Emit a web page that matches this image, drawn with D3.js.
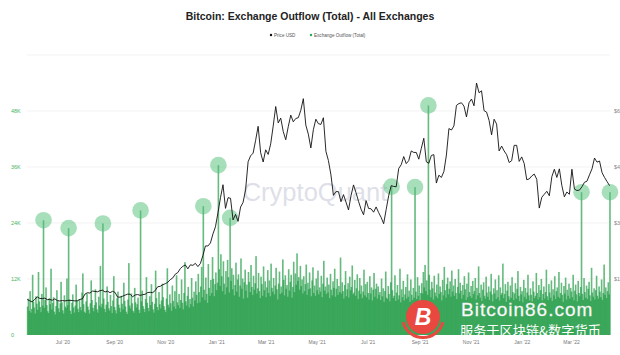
<!DOCTYPE html>
<html><head><meta charset="utf-8">
<script src="https://cdn.jsdelivr.net/npm/d3@7"></script>
<style>body{margin:0;background:#fff}svg{display:block;font-family:"Liberation Sans",Arial,sans-serif}</style>
</head><body><svg id="c" width="620" height="355"></svg>
<script>
// ---- data ----
const startDate = "2020-05-20";
const priceStepDays = 3;
// BTC price (USD), one value every 3 days from startDate
const priceUSD = [9500,9180,8850,9570,10200,9800,9750,9880,9470,9520,
9300,9680,9250,9110,9230,9130,9250,9280,9240,9130,
9170,9530,9700,10950,11330,11230,11760,11680,11570,11870,
12000,11520,11750,11330,11710,11400,10170,10130,10390,10680,
10940,10920,10250,10720,10840,10620,10790,10920,11380,11430,
11360,11920,12930,13040,13460,13740,14130,14820,15300,16300,
16720,17800,18400,18760,17730,18800,18650,19190,18320,19150,
21310,23860,23840,24660,27080,28990,32780,36770,40250,33920,
36770,36630,30830,32290,30430,34270,35510,38900,46400,48000,
48720,52150,55900,48820,46340,49600,48370,51200,55960,61200,
56800,58100,54500,52300,55800,58900,57100,58000,58200,60200,
63300,56200,53800,50100,55000,57800,56600,56400,58200,49200,
46700,42900,37400,38400,38400,35700,37600,35600,33500,37300,
40200,38100,35800,33700,32200,36000,33900,33800,32900,34300,
32800,31500,29800,33600,37300,40000,39800,39700,44600,45600,
47800,45900,46700,49300,48900,48900,47100,50000,52700,46400,
46000,48100,48300,40700,42800,42200,43800,48200,55300,54900,
56000,61500,62000,62200,61300,58400,62200,63200,61400,67500,
64900,65400,60100,59700,57500,53600,57800,56500,49300,50600,
49300,48300,46200,46700,50800,50800,46500,47700,45900,41600,
41800,42600,43100,41700,34000,36900,37700,38500,37300,42400,
44400,42200,44500,40000,37000,38300,37700,44400,39100,38700,
38800,39700,40900,41200,42900,44500,47400,46300,46600,43500,
42200,41100,40000];
// Exchange outflow (thousands), one value per day from startDate
const outflowK = [
6.1,7.8,5.2,9.4,4.8,5.6,12.9,7.1,5.9,4.6,
8.3,6.7,5.4,13.5,7.2,6.0,4.9,8.8,6.3,24.6,
5.8,7.5,10.2,6.4,5.1,4.7,7.9,6.6,14.2,5.5,
6.9,8.1,5.0,4.4,6.2,9.6,7.3,5.7,4.9,6.8,
11.4,7.0,5.3,4.6,8.5,6.1,5.8,12.1,6.4,22.9,
7.6,5.2,4.5,6.9,8.7,5.9,4.8,6.3,10.8,7.4,
5.6,4.9,7.7,6.0,5.3,9.1,13.2,6.6,5.0,4.7,
7.2,8.9,6.1,5.4,4.6,6.8,11.7,7.5,5.8,5.1,
6.4,9.8,7.0,5.5,4.8,8.2,6.3,14.8,5.9,6.7,
23.9,7.8,5.6,4.9,6.5,10.4,7.1,5.7,5.2,8.6,
6.2,4.7,7.4,12.6,6.0,5.3,4.6,7.9,9.3,6.5,
5.8,4.9,8.4,6.7,5.5,11.2,7.3,6.1,5.0,4.5,
7.6,15.4,6.3,5.7,8.9,6.8,5.2,4.8,10.1,7.0,
5.9,6.6,8.0,5.4,4.7,26.7,7.2,9.5,6.2,5.6,
4.9,7.7,12.4,6.9,5.8,5.1,8.3,6.4,10.9,7.1,
5.5,4.8,6.7,13.8,7.9,6.0,5.3,9.2,6.6,5.7,
7.4,11.0,8.1,6.2,5.4,4.9,7.8,14.3,6.5,5.9,
8.7,6.8,5.2,10.6,7.3,6.1,9.4,5.6,12.8,7.0,
6.4,8.8,5.8,7.5,11.9,6.9,5.5,9.0,15.6,7.2,
6.3,8.4,10.3,5.9,7.7,6.6,12.2,8.0,6.1,9.3,
7.4,11.5,8.6,6.8,13.1,9.2,7.0,10.4,14.6,8.1,
27.6,9.7,7.5,12.3,8.8,6.9,15.2,10.1,8.4,11.8,
9.0,16.7,12.0,8.3,10.9,13.4,9.6,11.2,36.4,14.1,
10.5,17.3,12.6,9.4,15.8,11.0,8.7,13.7,10.2,16.1,
12.4,9.1,25.1,11.6,14.3,9.8,12.9,8.5,10.7,15.5,
9.3,11.9,13.0,8.2,10.6,16.4,9.9,12.1,7.8,11.3,
14.0,9.5,10.8,8.0,13.5,11.4,9.2,15.0,10.3,8.6,
12.7,9.7,11.1,16.9,8.9,10.0,13.3,9.4,7.9,12.5,
10.9,8.4,14.7,9.6,11.5,8.1,10.2,13.9,9.0,11.7,
8.3,15.3,10.1,9.3,12.2,8.7,10.6,14.4,9.8,7.6,
11.0,13.6,8.8,10.4,9.1,16.2,11.8,8.5,12.8,9.9,
10.7,8.2,14.1,9.5,11.4,12.9,8.0,10.3,15.7,9.2,
13.2,10.8,17.5,11.6,12.4,9.7,14.8,10.5,11.9,8.9,
12.6,9.4,10.9,15.1,8.6,11.2,9.8,13.4,10.0,8.3,
11.7,14.5,9.0,10.6,8.4,12.1,9.6,13.8,8.7,10.2,
9.3,12.7,8.1,11.0,15.9,9.5,10.4,8.8,12.3,9.1,
10.8,7.9,13.1,9.7,8.5,11.5,10.1,14.2,8.2,9.9,
12.0,8.6,10.5,9.2,16.6,8.9,11.3,9.4,7.8,10.7,
13.7,8.3,9.8,11.1,8.0,12.5,9.6,10.3,14.9,8.7,
9.1,11.8,8.4,10.0,13.0,7.7,9.5,12.2,8.8,10.6,
7.9,9.3,14.0,8.5,10.9,8.1,11.4,9.0,7.6,12.6,
8.9,10.2,7.4,9.7,13.3,8.2,9.9,11.0,7.8,10.4,
8.6,
9.2,7.5,12.1,8.3,10.0,7.1,9.4,13.6,8.0,7.7,
10.5,8.8,7.2,11.3,31.8,9.6,7.9,8.4,12.8,7.3,
9.1,10.7,7.6,8.5,14.2,7.0,9.8,8.1,11.6,7.4,
8.7,10.3,7.8,13.0,8.2,9.5,7.1,11.9,8.6,7.5,
10.1,8.0,31.7,9.3,7.7,12.4,8.4,10.6,7.2,9.0,
11.1,8.9,13.5,10.2,15.0,9.4,11.7,8.6,49.2,12.9,
9.7,8.1,11.4,10.0,7.6,12.7,9.1,8.3,10.8,7.9,
13.2,8.8,10.4,9.2,7.4,11.8,8.5,14.6,9.6,8.0,
10.9,12.3,8.7,9.9,11.5,8.2,13.8,9.3,10.6,8.4,
12.0,9.0,7.7,10.3,14.1,8.9,11.2,9.5,7.8,10.7,
8.6,12.6,9.8,7.5,11.0,8.1,13.4,9.2,8.3,10.5,
7.9,11.6,8.8,9.4,12.2,7.6,10.1,8.5,14.7,9.0,
8.0,10.8,7.3,9.7,11.3,8.4,7.8,12.5,9.1,8.2,
10.4,7.5,9.3,13.1,8.7,7.2,10.0,8.9,11.9,7.7,
9.6,8.1,12.8,7.4,10.2,8.6,9.0,15.3,7.9,8.8,
10.9,7.1,9.5,11.4,8.3,7.6,10.6,8.0,12.4,9.2,
7.5,8.9,11.1,7.8,9.9,13.7,8.4,7.3,10.3,8.7,
9.4,7.0,11.8,8.2,10.1,7.7,9.1,12.9,8.5,7.4,
10.0,8.6,7.2,11.5,9.3,7.9,8.4,13.3,9.0,7.6,
10.7,8.1,9.6,12.0,7.4,8.8,10.4,7.8,9.2,14.0,
8.3,7.5,10.9,9.1,8.0,11.7,7.3,9.8,8.5,12.6,
7.7,9.4,10.2,8.2,13.5,7.9,9.0,11.2,8.6,7.1,
10.5,8.9,12.3,7.6,9.7,8.4,11.0,7.8,10.1,9.3,
8.1,12.9,7.4,9.5,10.8,8.7,7.2,11.6,9.0,8.3,
10.3,30.6,8.8,7.5,12.2,9.2,8.0,10.6,7.7,9.9,
11.4,8.5,7.3,14.4,9.1,8.2,10.0,7.6,9.6,12.7,
8.4,7.8,10.4,9.3,8.1,11.9,7.5,9.0,15.1,8.6,
10.2,7.9,9.4,11.3,8.7,30.6];
const outlierThresholdK = 20;
const leftTicks = [0,12,24,36,48];
const leftTickLabels = ["0","12K","24K","36K","48K"];
const gridTicks = [12,24,36,48,60];
const rightTicks = [15000,30000,45000,60000];
const rightTickLabels = ["$15K","$30K","$45K","$60K"];
const xTickDates = ["2020-07-01","2020-09-01","2020-11-01","2021-01-01","2021-03-01","2021-05-01","2021-07-01","2021-09-01","2021-11-01","2022-01-01","2022-03-01"];
const xTickLabels = ["Jul '20","Sep '20","Nov '20","Jan '21","Mar '21","May '21","Jul '21","Sep '21","Nov '21","Jan '22","Mar '22"];
const legendItems = ["Price USD","Exchange Outflow (Total)"];

// ---- chart ----
const svg = d3.select("#c");
const parse = d3.utcParse("%Y-%m-%d");
const t0 = parse(startDate);
const dayDate = i => d3.utcDay.offset(t0, i);
const x = d3.scaleUtc().domain([t0, dayDate(outflowK.length)]).range([27.2, 610.4]);
const yL = d3.scaleLinear().domain([0, 60]).range([335, 55]);
const yR = d3.scaleLinear().domain([0, 75000]).range([335, 55]);
const dayW = x(dayDate(1)) - x(t0);

// gridlines
svg.append("g").selectAll("line").data(gridTicks).join("line")
  .attr("x1", 27).attr("x2", 610).attr("y1", d => yL(d)).attr("y2", d => yL(d))
  .attr("stroke", "#ececec").attr("stroke-width", 0.7);

// watermark
svg.append("text").attr("x", 315).attr("y", 201).attr("text-anchor", "middle")
  .attr("font-size", 25.5).attr("fill", "#dedfe8").text("CryptoQuant");

// bars
svg.append("g").selectAll("rect").data(outflowK).join("rect")
  .attr("x", (d, i) => x(dayDate(i)) + dayW / 2 - 0.8)
  .attr("width", 1.6)
  .attr("y", d => yL(d))
  .attr("height", d => yL(0) - yL(d))
  .attr("fill", "#15963b").attr("fill-opacity", 0.66);

// outlier bubbles
const outliers = outflowK.map((v, i) => ({v, i})).filter(d => d.v > outlierThresholdK);
svg.append("g").selectAll("circle").data(outliers).join("circle")
  .attr("cx", d => x(dayDate(d.i)) + dayW / 2)
  .attr("cy", d => yL(d.v))
  .attr("r", 8.3)
  .attr("fill", "#52c077").attr("fill-opacity", 0.5);

// price line
const line = d3.line().x((d, i) => x(dayDate(i * priceStepDays))).y(d => yR(d));
svg.append("path").datum(priceUSD).attr("d", line)
  .attr("fill", "none").attr("stroke", "#111").attr("stroke-width", 0.9).attr("stroke-linejoin", "round");

// overlay logo
const lg = svg.append("g");
lg.append("path").attr("transform", "translate(423,317)")
  .attr("d", d3.arc().innerRadius(19).outerRadius(22).startAngle(Math.PI * 0.58).endAngle(Math.PI * 1.42)())
  .attr("fill", "#e8483f");
lg.append("circle").attr("cx", 423).attr("cy", 317).attr("r", 17).attr("fill", "#e8483f");
lg.append("text").attr("x", 423).attr("y", 325).attr("text-anchor", "middle")
  .attr("font-size", 23).attr("font-weight", "bold").attr("font-style", "italic").attr("fill", "#fff").text("B");
lg.append("text").attr("x", 461).attr("y", 316).attr("font-size", 19).attr("fill", "#fff")
  .attr("stroke", "#e6e6e6").attr("stroke-width", 0.3).attr("letter-spacing", 1).text("Bitcoin86.com");
lg.append("text").attr("x", 460).attr("y", 336).attr("font-size", 13.2)
  .attr("font-family", "'Noto Sans CJK SC'").attr("fill", "#fff").text("服务于区块链&数字货币");

// axes
const ax = svg.append("g").attr("transform", "translate(11,0)")
  .call(d3.axisRight(yL).tickValues(leftTicks).tickFormat((d, i) => leftTickLabels[i]).tickSize(0).tickPadding(0));
ax.select(".domain").remove();
ax.selectAll("text").attr("fill", "#45b565").attr("font-size", 5.5).attr("font-family", "Liberation Sans, Arial");

const ar = svg.append("g").attr("transform", "translate(614,0)")
  .call(d3.axisRight(yR).tickValues(rightTicks).tickFormat((d, i) => rightTickLabels[i]).tickSize(0).tickPadding(0));
ar.select(".domain").remove();
ar.selectAll("text").attr("fill", "#888").attr("font-size", 5.5).attr("font-family", "Liberation Sans, Arial");

const axb = svg.append("g").attr("transform", "translate(0,338)")
  .call(d3.axisBottom(x).tickValues(xTickDates.map(parse)).tickFormat((d, i) => xTickLabels[i]).tickSize(0).tickPadding(2.5));
axb.select(".domain").remove();
axb.selectAll("text").attr("fill", "#777").attr("font-size", 5).attr("font-family", "Liberation Sans, Arial");

// title
svg.append("text").attr("x", 310).attr("y", 20).attr("text-anchor", "middle")
  .attr("font-size", 10.5).attr("font-weight", "bold").attr("fill", "#222")
  .text("Bitcoin: Exchange Outflow (Total) - All Exchanges");

// legend
const legColors = ["#111", "#2ea84f"];
const legX = [271, 311];
const leg = svg.append("g").selectAll("g").data(legendItems).join("g")
  .attr("transform", (d, i) => `translate(${legX[i]},35)`);
leg.append("circle").attr("r", 1.2).attr("fill", (d, i) => legColors[i]);
leg.append("text").attr("x", 3).attr("y", 1.6).attr("font-size", 4.6).attr("fill", "#555").text(d => d);
</script></body></html>
